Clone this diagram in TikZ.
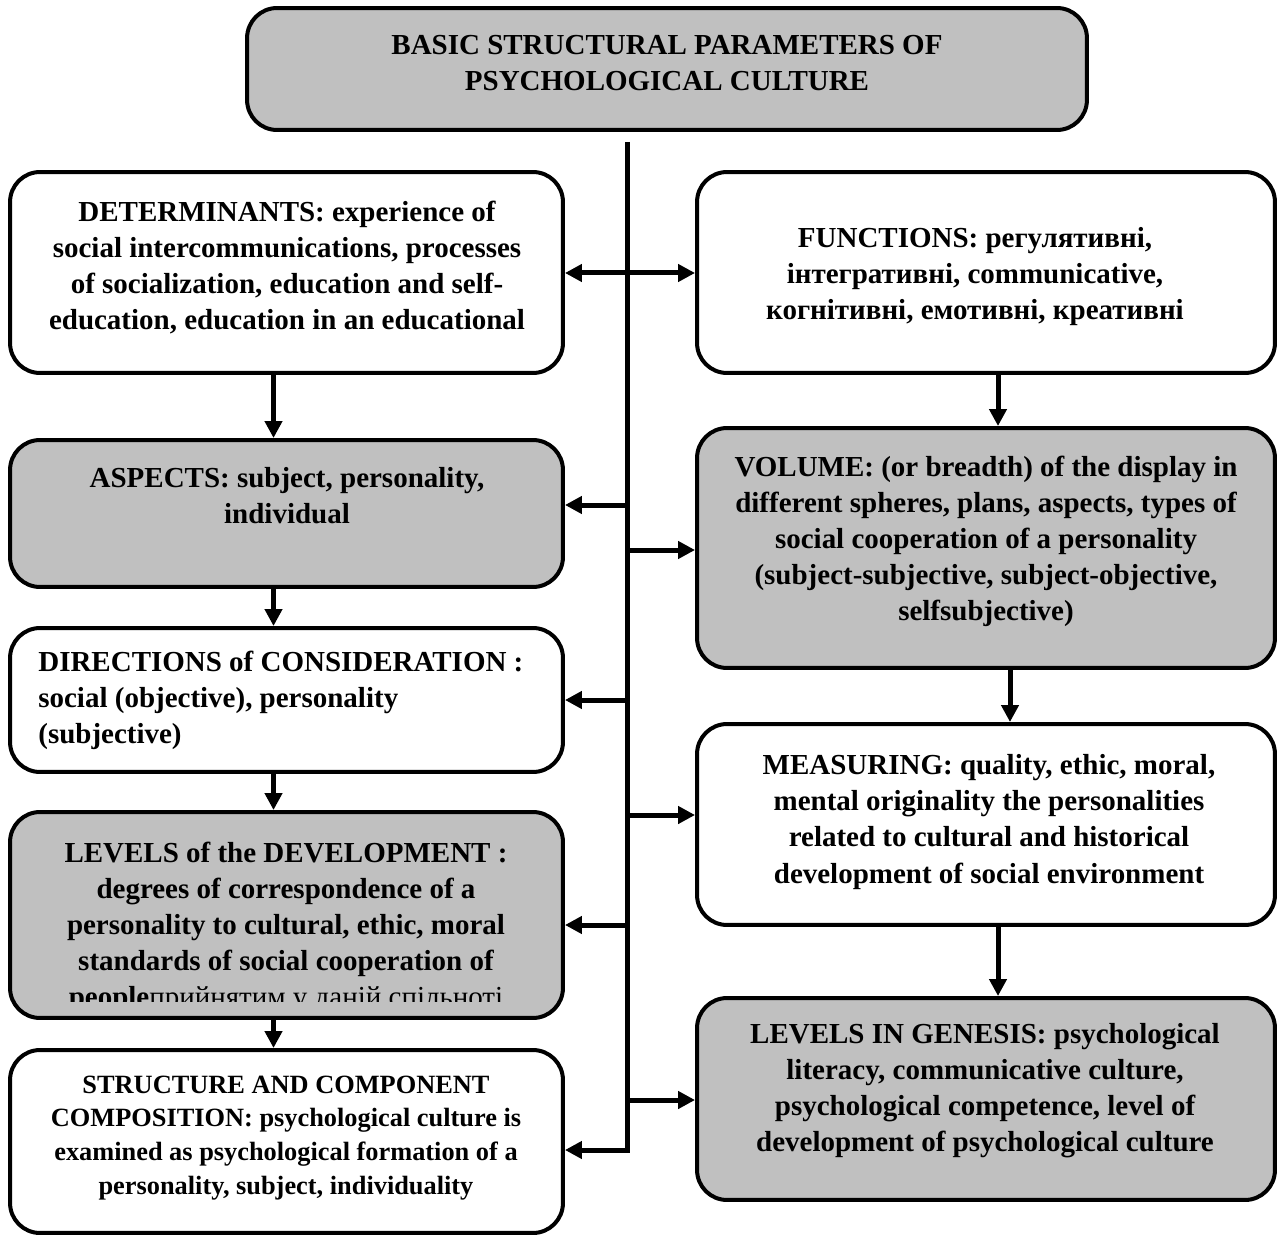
\documentclass[tikz,border=0pt]{standalone}
\usepackage{fontspec}
\setmainfont{Liberation Serif}
\usetikzlibrary{arrows.meta}
\definecolor{boxgrey}{HTML}{C0C0C0}

\begin{document}
\begin{tikzpicture}[
      x=0.02cm, y=-0.02cm,
      every node/.style={font=\bfseries\fontsize{16.5}{20.5}\selectfont},
      panel/.style={draw, line width=0.08cm, rounded corners=0.6cm, inner sep=0pt},
      lpanel/.style={panel, minimum width=11.06cm},
      rpanel/.style={panel, minimum width=11.56cm},
      grey/.style={fill=boxgrey},
      txt/.style={align=center, inner sep=0pt},
      arr/.style={line width=0.1cm, -{Triangle[length=0.34cm,width=0.34cm]}},
   ]
   \useasboundingbox (0,0) rectangle (1277,1236);

   % boxes
   \node[panel, grey, minimum width=16.8cm, minimum height=2.44cm] (title) at (667,69) {};
   \node[lpanel, minimum height=4.02cm] (det) at (286.5,272.5) {};
   \node[rpanel, minimum height=4.02cm] (func) at (986,272.5) {};
   \node[lpanel, grey, minimum height=2.94cm] (asp) at (286.5,513.5) {};
   \node[rpanel, grey, minimum height=4.8cm] (vol) at (986,548) {};
   \node[lpanel, minimum height=2.88cm] (dir) at (286.5,700) {};
   \node[rpanel, minimum height=4.02cm] (meas) at (986,824.5) {};
   \node[lpanel, grey, minimum height=4.12cm] (lev) at (286.5,915) {};
   \node[rpanel, grey, minimum height=4.04cm] (gen) at (986,1099) {};
   \node[lpanel, minimum height=3.66cm] (str) at (286.5,1141.5) {};

   % texts
   \node[txt] (titleT) at (667,63) {BASIC STRUCTURAL PARAMETERS OF\\PSYCHOLOGICAL CULTURE};
   \begin{scope}
      \clip (10,172) rectangle (563,357);
      \node[txt] (detT) at (287,268) {DETERMINANTS: experience of\\social intercommunications, processes\\of socialization, education and self-\\education, education in an educational};
   \end{scope}
   \node[txt] (funcT) at (975,277) {FUNCTIONS: регулятивні,\\інтегративні, communicative,\\когнітивні, емотивні, креативні};
   \node[txt] (aspT) at (287,496) {ASPECTS: subject, personality,\\individual};
   \node[txt] (volT) at (986,541) {VOLUME: (or breadth) of the display in\\different spheres, plans, aspects, types of\\social cooperation of a personality\\(subject-subjective, subject-objective,\\selfsubjective)};
   \node[txt, align=left, anchor=west] (dirT) at (38,700) {DIRECTIONS of CONSIDERATION :\\social (objective), personality\\(subjective)};
   \node[txt] (measT) at (989,822) {MEASURING: quality, ethic, moral,\\mental originality the personalities\\related to cultural and historical\\development of social environment};
   \begin{scope}
      \clip (10,812) rectangle (563,1001);
      \node[txt] (levT) at (286,927) {LEVELS of the DEVELOPMENT :\\degrees of correspondence of a\\personality to cultural, ethic, moral\\standards of social cooperation of\\people{\mdseries прийнятим у даній спільноті}};
   \end{scope}
   \node[txt] (genT) at (985,1091) {LEVELS IN GENESIS: psychological\\literacy, communicative culture,\\psychological competence, level of\\development of psychological culture};
   \node[txt, font=\bfseries\fontsize{15}{19.3}\selectfont] (strT) at (286,1138) {STRUCTURE AND COMPONENT\\COMPOSITION: psychological culture is\\examined as psychological formation of a\\personality, subject, individuality};

   % spine
   \coordinate (top) at (627,142);
   \coordinate (bot) at (627,1150);
   \coordinate (s0) at (627,273);
   \coordinate (s1) at (627,505);
   \coordinate (s2) at (627,550);
   \coordinate (s3) at (627,700);
   \coordinate (s4) at (627,815);
   \coordinate (s5) at (627,925);
   \coordinate (s6) at (627,1100);
   \draw[arr] (top) -- (bot) -- (bot -| str.east);
   \draw[arr, {Triangle[length=0.34cm,width=0.34cm]}-{Triangle[length=0.34cm,width=0.34cm]}] (s0 -| det.east) -- (s0 -| func.west);
   \draw[arr] (s1) -- (s1 -| asp.east);
   \draw[arr] (s2) -- (s2 -| vol.west);
   \draw[arr] (s3) -- (s3 -| dir.east);
   \draw[arr] (s4) -- (s4 -| meas.west);
   \draw[arr] (s5) -- (s5 -| lev.east);
   \draw[arr] (s6) -- (s6 -| gen.west);

   % downward links
   \draw[arr] ([xshift=-0.26cm]det.south) -- ([xshift=-0.26cm]asp.north);
   \draw[arr] ([xshift=-0.26cm]asp.south) -- ([xshift=-0.26cm]dir.north);
   \draw[arr] ([xshift=-0.26cm]dir.south) -- ([xshift=-0.26cm]lev.north);
   \draw[arr] ([xshift=-0.26cm]lev.south) -- ([xshift=-0.26cm]str.north);
   \draw[arr] ([xshift=0.24cm]func.south) -- ([xshift=0.24cm]vol.north);
   \draw[arr] ([xshift=0.48cm]vol.south) -- ([xshift=0.48cm]meas.north);
   \draw[arr] ([xshift=0.24cm]meas.south) -- ([xshift=0.24cm]gen.north);
\end{tikzpicture}
\end{document}
